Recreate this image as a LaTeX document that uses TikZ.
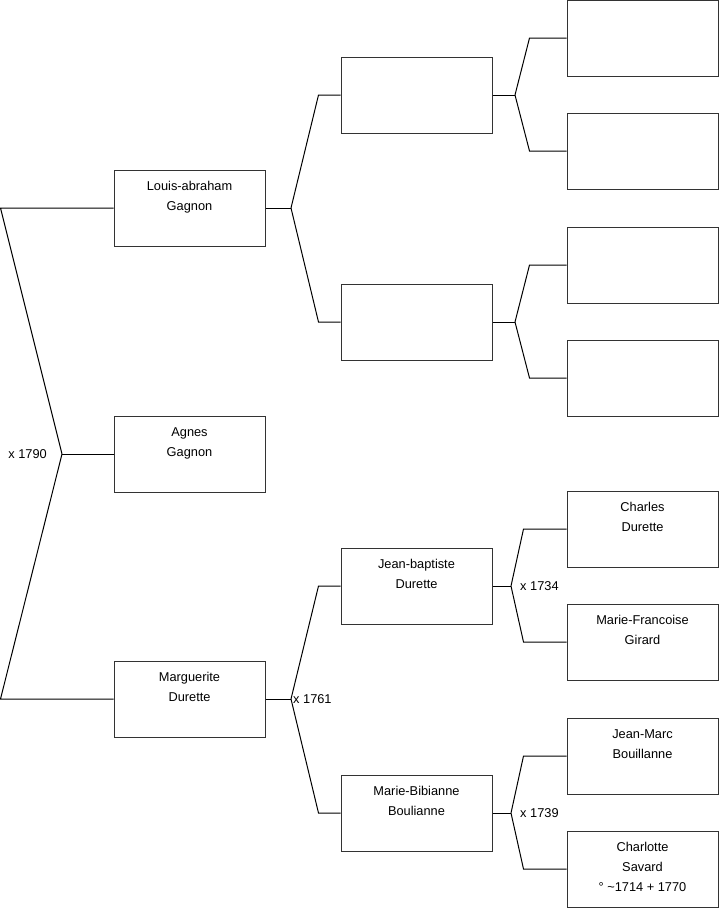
\documentclass[tikz,border=0pt]{standalone}
\usepackage{fontspec}
\setmainfont{Liberation Sans}

\tikzset{
	person/.style={draw=black!80, line width=1pt, minimum width=151pt, minimum height=76pt},
	who/.style={anchor=north, yshift=-12pt, align=center, inner sep=0pt, font=\fontsize{12.8pt}{20pt}\selectfont},
	link/.style={draw=black, line width=1pt},
	wed/.style={inner sep=0pt, font=\fontsize{12.8pt}{15pt}\selectfont},
}

\begin{document}
\begin{tikzpicture}[x=1pt, y=-1pt]
	\useasboundingbox (0,0) rectangle (719,908);
	
	% Child
	\node[person, label={[who]north:{Agnes\\Gagnon}}] (p0) at (189.5,454) {};
	
	% Parents
	\node[person, label={[who]north:{Louis-abraham\\Gagnon}}] (p1) at (189.5,208) {};
	\node[person, label={[who]north:{Marguerite\\Durette}}]    (p2) at (189.5,699) {};
	
	% Grandparents
	\node[person] (p11) at (416.5,95)  {};
	\node[person] (p12) at (416.5,322) {};
	\node[person, label={[who]north:{Jean-baptiste\\Durette}}]     (p21) at (416.5,586) {};
	\node[person, label={[who]north:{Marie-Bibianne\\Boulianne}}]  (p22) at (416.5,813) {};
	
	% Great-grandparents
	\node[person] (p111) at (642.5,38)  {};
	\node[person] (p112) at (642.5,151) {};
	\node[person] (p121) at (642.5,265) {};
	\node[person] (p122) at (642.5,378) {};
	\node[person, label={[who]north:{Charles\\Durette}}]           (p211) at (642.5,529) {};
	\node[person, label={[who]north:{Marie-Francoise\\Girard}}]   (p212) at (642.5,642) {};
	\node[person, label={[who]north:{Jean-Marc\\Bouillanne}}]     (p221) at (642.5,756) {};
	\node[person, label={[who]north:{Charlotte\\Savard\\° \textasciitilde1714 + 1770}}] (p222) at (642.5,869) {};
	
	% Forks
	\coordinate (f0)   at (62,454);
	\coordinate (f1)   at (291,208);
	\coordinate (f2)   at (291,699);
	\coordinate (f11)  at (515,95);
	\coordinate (f12)  at (515,322);
	\coordinate (f21)  at (511,586);
	\coordinate (f22)  at (511,813);
	
	% Connections
	\draw[link] (p0.west) -- (f0);
	\draw[link] (p1.west) -- ++(-113,0) -- (f0);
	\draw[link] (p2.west) -- ++(-113,0) -- (f0);
	
	\draw[link] (p1.east) -- (f1);
	\draw[link] (p11.west) -- ++(-22,0) -- (f1);
	\draw[link] (p12.west) -- ++(-22,0) -- (f1);
	
	\draw[link] (p2.east) -- (f2);
	\draw[link] (p21.west) -- ++(-22,0) -- (f2);
	\draw[link] (p22.west) -- ++(-22,0) -- (f2);
	
	\draw[link] (p11.east) -- (f11);
	\draw[link] (p111.west) -- ++(-37,0) -- (f11);
	\draw[link] (p112.west) -- ++(-37,0) -- (f11);
	
	\draw[link] (p12.east) -- (f12);
	\draw[link] (p121.west) -- ++(-37,0) -- (f12);
	\draw[link] (p122.west) -- ++(-37,0) -- (f12);
	
	\draw[link] (p21.east) -- (f21);
	\draw[link] (p211.west) -- ++(-43,0) -- (f21);
	\draw[link] (p212.west) -- ++(-43,0) -- (f21);
	
	\draw[link] (p22.east) -- (f22);
	\draw[link] (p221.west) -- ++(-43,0) -- (f22);
	\draw[link] (p222.west) -- ++(-43,0) -- (f22);
	
	% Marriages
	\node[wed, anchor=east] (m0)  at ([xshift=-15pt]f0)  {x 1790};
	\node[wed, anchor=west] (m2)  at ([xshift=2pt]f2)    {x 1761};
	\node[wed, anchor=west] (m21) at ([xshift=9pt]f21)   {x 1734};
	\node[wed, anchor=west] (m22) at ([xshift=9pt]f22)   {x 1739};
\end{tikzpicture}
\end{document}
